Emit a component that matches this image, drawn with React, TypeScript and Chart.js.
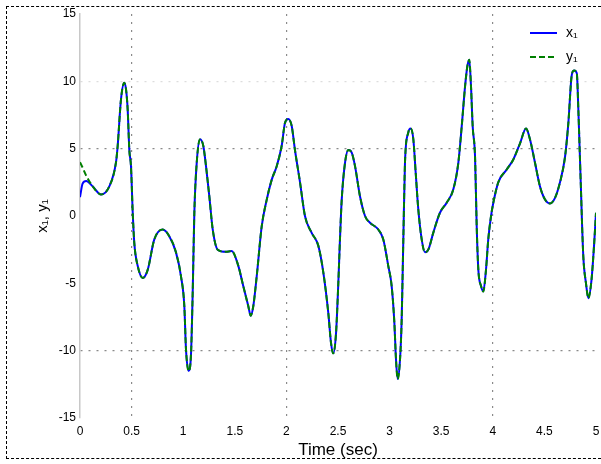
import React, { useEffect, useRef } from "react";
import { Chart, registerables } from "chart.js";

Chart.register(...registerables);

// time samples (sec)
const times = [0, 0.025, 0.06, 0.123, 0.203, 0.284, 0.349, 0.365, 0.397, 0.429, 0.446, 0.462, 0.478, 0.494, 0.511, 0.526, 0.559, 0.608, 0.656, 0.72, 0.801, 0.865, 0.93, 0.979, 1.011, 1.027, 1.053, 1.076, 1.092, 1.108, 1.131, 1.163, 1.195, 1.221, 1.253, 1.286, 1.334, 1.412, 1.47, 1.534, 1.582, 1.631, 1.654, 1.679, 1.712, 1.761, 1.809, 1.858, 1.906, 1.954, 1.986, 2.018, 2.051, 2.083, 2.132, 2.18, 2.245, 2.309, 2.358, 2.406, 2.432, 2.454, 2.481, 2.503, 2.519, 2.536, 2.568, 2.6, 2.633, 2.665, 2.713, 2.762, 2.81, 2.89, 2.939, 2.987, 3.02, 3.046, 3.062, 3.078, 3.101, 3.117, 3.133, 3.149, 3.181, 3.204, 3.23, 3.253, 3.278, 3.311, 3.343, 3.375, 3.423, 3.488, 3.553, 3.617, 3.666, 3.699, 3.731, 3.753, 3.772, 3.789, 3.805, 3.828, 3.844, 3.86, 3.886, 3.908, 3.934, 3.956, 3.983, 4.005, 4.053, 4.135, 4.199, 4.264, 4.322, 4.36, 4.409, 4.457, 4.506, 4.554, 4.603, 4.651, 4.7, 4.732, 4.764, 4.787, 4.814, 4.829, 4.852, 4.877, 4.903, 4.926, 4.957, 4.981, 5.0];

// start of each series (first three samples differ)
const x1Start = [1.4, 2.4, 2.6];
const y1Start = [4.0, 3.6, 3.0];

// common trajectory after the transient
const sharedValues = [2.2, 1.6, 2.2, 4.0, 5.2, 8.65, 9.9, 9.4, 7.9, 4.9, 3.7, 0.24, -2.0, -3.7, -4.6, -4.0, -1.74, -1.0, -1.5, -2.7, -4.5, -6.7, -9.9, -11.5, -10.2, -5.7, 0.24, 3.95, 5.7, 5.2, 3.7, 1.47, -1.0, -2.5, -2.66, -2.6, -3.7, -5.2, -6.7, -7.4, -6.7, -4.5, -0.76, 1.2, 2.7, 3.7, 5.2, 6.9, 7.2, 6.7, 4.9, 2.5, 0.0, -1.25, -2.2, -4.2, -7.2, -9.4, -10.2, -8.7, -5.0, -1.74, 1.2, 3.95, 4.9, 4.7, 3.7, 1.47, 0.0, -0.5, -1.0, -1.74, -3.7, -5.2, -7.9, -10.65, -12.1, -10.65, -7.7, -1.74, 3.95, 6.2, 6.5, 5.7, 3.2, 0.5, -1.74, -2.7, -2.5, -1.25, 0.24, 0.98, 1.97, 3.95, 6.67, 9.6, 11.1, 11.6, 9.6, 6.67, 4.4, -0.76, -4.0, -5.2, -5.6, -4.0, -1.74, 0, 0.98, 2.5, 3.45, 4.2, 5.4, 6.5, 5.7, 3.95, 2.2, 1.22, 0.93, 1.35, 2.5, 4.4, 6.9, 10.4, 10.8, 10.6, 7.9, 2.5, -3.0, -5.0, -6.1, -4.7, -2.2, 0.24];

const x1Values = [...x1Start, ...sharedValues];
const y1Values = [...y1Start, ...sharedValues];

const seriesLabels = ["x\u2081", "y\u2081"];
const xTitle = "Time (sec)";
const yTitle = "x\u2081, y\u2081";

const xTickValues = [0, 0.5, 1, 1.5, 2, 2.5, 3, 3.5, 4, 4.5, 5];
const yTickValues = [-15, -10, -5, 0, 5, 10, 15];

const FONT = "'Liberation Sans', Arial, Helvetica, sans-serif";
const BLUE = "#0000ff";
const GREEN = "#007f00";

const gridX = new Set([0.5, 2, 4]);
const gridYStrong = new Set([5, -10]);
const gridYFaint = new Set([10]);

const overlayPlugin = {
  id: "overlay",
  afterDraw(chart: any) {
    const { ctx, chartArea } = chart;
    ctx.save();
    // axis titles
    ctx.fillStyle = "#000";
    ctx.font = `17px ${FONT}`;
    ctx.textAlign = "center";
    ctx.textBaseline = "middle";
    ctx.fillText(xTitle, (chartArea.left + chartArea.right) / 2, 450);
    ctx.save();
    ctx.translate(43, (chartArea.top + chartArea.bottom) / 2);
    ctx.rotate(-Math.PI / 2);
    ctx.font = `15px ${FONT}`;
    ctx.fillText(yTitle, 0, 0);
    ctx.restore();

    // legend
    const items = [
      { label: seriesLabels[0], color: BLUE, dash: [] as number[], y: 33 },
      { label: seriesLabels[1], color: GREEN, dash: [6, 3], y: 57 },
    ];
    items.forEach((it) => {
      ctx.save();
      ctx.strokeStyle = it.color;
      ctx.lineWidth = 2;
      ctx.setLineDash(it.dash);
      ctx.beginPath();
      ctx.moveTo(530, it.y);
      ctx.lineTo(557, it.y);
      ctx.stroke();
      ctx.restore();
      ctx.fillStyle = "#000";
      ctx.font = `14px ${FONT}`;
      ctx.textAlign = "left";
      ctx.textBaseline = "middle";
      ctx.fillText(it.label, 566, it.y);
    });
    ctx.restore();
  },
};

export default function App() {
  const canvasRef = useRef<HTMLCanvasElement | null>(null);

  useEffect(() => {
    if (!canvasRef.current) return;
    const chart = new Chart(canvasRef.current, {
      type: "line",
      data: {
        datasets: [
          {
            label: seriesLabels[1],
            data: times.map((t, i) => ({ x: t, y: y1Values[i] })),
            borderColor: GREEN,
            borderWidth: 2,
            borderDash: [6, 3],
            pointRadius: 0,
            cubicInterpolationMode: "monotone",
            fill: false,
            order: 0,
          },
          {
            label: seriesLabels[0],
            data: times.map((t, i) => ({ x: t, y: x1Values[i] })),
            borderColor: BLUE,
            borderWidth: 2,
            pointRadius: 0,
            cubicInterpolationMode: "monotone",
            fill: false,
            order: 1,
          },
        ],
      },
      options: {
        animation: false,
        responsive: false,
        events: [],
        layout: { padding: { left: 0, right: 5, top: 14, bottom: 0 } },
        plugins: {
          legend: { display: false },
          tooltip: { enabled: false },
          title: { display: false },
        },
        scales: {
          x: {
            type: "linear",
            min: 0,
            max: 5,
            afterBuildTicks: (scale: any) => {
              scale.ticks = xTickValues.map((v) => ({ value: v }));
            },
            afterFit: (scale: any) => {
              scale.height = 46;
              scale.paddingRight = 0;
              scale.paddingLeft = 0;
            },
            ticks: {
              color: "#000",
              font: { family: FONT, size: 12 },
              padding: 6,
              maxRotation: 0,
              autoSkip: false,
              callback: (v: any) => String(v),
            },
            grid: {
              drawTicks: false,
              tickLength: 0,
              lineWidth: 1.2,
              color: (c: any) => (c.tick && gridX.has(c.tick.value) ? "#8a8a8a" : "rgba(0,0,0,0)"),
            },
            border: { display: false, dash: [2, 6] } as any,
          },
          y: {
            type: "linear",
            min: -15,
            max: 15,
            afterBuildTicks: (scale: any) => {
              scale.ticks = yTickValues.map((v) => ({ value: v }));
            },
            afterFit: (scale: any) => {
              scale.width = 80;
            },
            ticks: {
              color: "#000",
              font: { family: FONT, size: 12 },
              padding: 4,
              autoSkip: false,
              callback: (v: any) => String(v),
            },
            grid: {
              drawTicks: false,
              tickLength: 0,
              lineWidth: 1.2,
              color: (c: any) => {
                if (!c.tick) return "rgba(0,0,0,0)";
                if (gridYStrong.has(c.tick.value)) return "#8a8a8a";
                if (gridYFaint.has(c.tick.value)) return "#dddddd";
                return "rgba(0,0,0,0)";
              },
            },
            border: { display: true, color: "#c8c8c8", width: 1.5, dash: [2, 6] } as any,
          },
        },
      },
      plugins: [overlayPlugin],
    } as any);
    return () => chart.destroy();
  }, []);

  return (
    <div style={{ position: "absolute", left: 0, top: 0, width: 601, height: 464, background: "#fff" }}>
      <div
        style={{
          position: "absolute",
          left: 6,
          top: 6,
          width: 595,
          height: 453,
          boxSizing: "border-box",
          borderTop: "1px dashed #000",
          borderLeft: "1px dashed #000",
          borderBottom: "1px dashed #000",
        }}
      />
      <canvas ref={canvasRef} width={601} height={464} style={{ position: "absolute", left: 0, top: 0 }} />
    </div>
  );
}
